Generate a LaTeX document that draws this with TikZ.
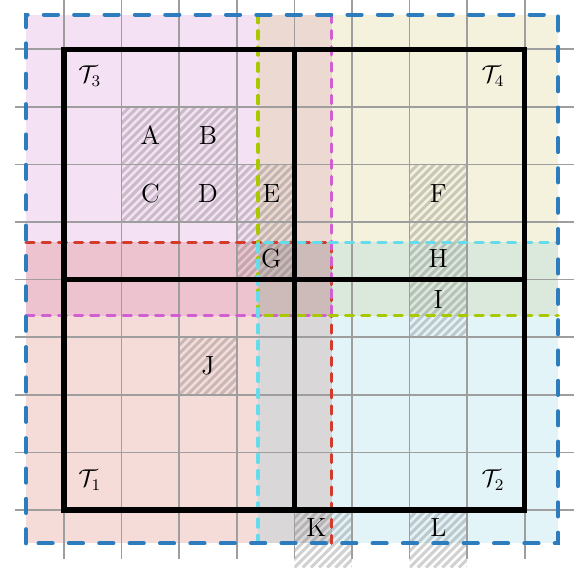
\documentclass[tikz,border=0pt]{standalone}
\usepackage{fontspec}
\setmainfont{Latin Modern Roman}
\definecolor{fillMagenta}{RGB}{182,55,175}
\definecolor{fillGreen}{RGB}{182,168,22}
\definecolor{fillRed}{RGB}{188,22,2}
\definecolor{fillCyan}{RGB}{68,182,215}
\definecolor{lineBlue}{RGB}{45,125,190}
\definecolor{lineRed}{RGB}{210,60,45}
\definecolor{lineMagenta}{RGB}{210,95,210}
\definecolor{lineGreen}{RGB}{170,200,0}
\definecolor{lineCyan}{RGB}{100,220,235}

\begin{document}
\begin{tikzpicture}[
    zona/.style={fill opacity=0.15},
    rayado/.style={draw=black!60, draw opacity=0.3, line width=1.5pt},
    rejilla/.style={draw=black!38, line width=0.8pt},
    marco/.style={draw=black, line width=2.5pt},
    borde/.style={
        line width=1.6pt,
        dash pattern=on 4pt off 4pt,
        line cap=round
    },
    contorno/.style={
        draw=lineBlue,
        line width=2pt,
        dash pattern=on 7pt off 8pt,
        line cap=round
    },
    etiqueta/.style={font=\fontsize{13}{15}\selectfont, inner sep=1pt},
    arbol/.style={font=\fontsize{12}{14}\selectfont, inner sep=1pt}
]
    \useasboundingbox (-1.111,-1.128) rectangle (8.976,8.854);

    % limites de las zonas
    \coordinate (sw) at (-0.66,-0.58);
    \coordinate (ne) at (8.58,8.6);
    \coordinate (lo) at (3.37,3.37);
    \coordinate (hi) at (4.65,4.65);

    % zonas de cada subarbol
    \fill[zona, fillMagenta] (sw |- lo) rectangle (hi |- ne);
    \fill[zona, fillGreen] (lo) rectangle (ne);
    \fill[zona, fillRed] (sw) rectangle (hi);
    \fill[zona, fillCyan] (lo |- sw) rectangle (ne |- hi);

    % celdas ocupadas
    \foreach \cx/\cy in {1/6, 2/6, 1/5, 2/5, 3/5, 3/4, 6/5, 6/4, 6/3, 2/2, 4/-1, 6/-1} {
        \begin{scope}
            \clip (\cx,\cy) rectangle ++(1,1);
            \foreach \s in {0,...,14}
                \draw[rayado] ({\cx+\s/7-1},\cy) -- ++(1,1);
        \end{scope}
    }

    \draw[rejilla] (-0.85,-0.85) grid (8.85,8.85);

    \draw[borde, lineRed] (sw |- hi) -- (hi) -- (hi |- sw);
    \draw[borde, lineMagenta] (sw |- lo) -- (hi |- lo) -- (hi |- ne);
    \draw[borde, lineGreen] (lo |- ne) -- (lo) -- (ne |- lo);
    \draw[borde, lineCyan] (lo |- sw) -- (lo |- hi) -- (ne |- hi);

    \draw[marco] (0,0) rectangle (8,8);
    \draw[marco] (4,0) -- (4,8);
    \draw[marco] (0,4) -- (8,4);

    \draw[contorno] (sw) rectangle (ne);

    \node[arbol] (t3) at (0.45,7.53) {$\mathcal{T}_3$};
    \node[arbol] (t4) at (7.45,7.53) {$\mathcal{T}_4$};
    \node[arbol] (t1) at (0.45,0.52) {$\mathcal{T}_1$};
    \node[arbol] (t2) at (7.45,0.52) {$\mathcal{T}_2$};

    \node[etiqueta] (a) at (1.5,6.5) {A};
    \node[etiqueta] (b) at (2.5,6.5) {B};
    \node[etiqueta] (c) at (1.5,5.5) {C};
    \node[etiqueta] (d) at (2.5,5.5) {D};
    \node[etiqueta] (e) at (3.6,5.5) {E};
    \node[etiqueta] (f) at (6.5,5.5) {F};
    \node[etiqueta] (g) at (3.6,4.36) {G};
    \node[etiqueta] (h) at (6.5,4.36) {H};
    \node[etiqueta] (i) at (6.5,3.65) {I};
    \node[etiqueta] (j) at (2.5,2.5) {J};
    \node[etiqueta] (k) at (4.38,-0.3) {K};
    \node[etiqueta] (l) at (6.5,-0.3) {L};
\end{tikzpicture}
\end{document}
